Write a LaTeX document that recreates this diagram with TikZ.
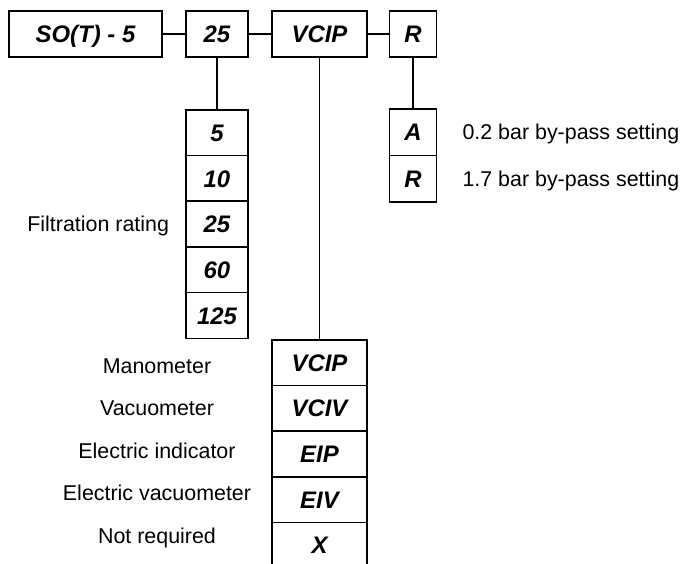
\documentclass[tikz,border=0pt]{standalone}
\usepackage{fontspec}
\setmainfont{Liberation Sans}
\usetikzlibrary{positioning}
\tikzset{
  code/.style={draw, line width=1.6bp, rectangle, inner sep=0pt, minimum height=45.7bp,
    font=\fontsize{24}{28}\selectfont\bfseries\itshape, text height=17.2pt, text depth=0pt},
  lbl/.style={inner sep=0pt, font=\fontsize{21.5}{26}\selectfont, text height=15.4pt, text depth=0pt},
  link/.style={line width=1.3bp}
}
\begin{document}
\begin{tikzpicture}[x=1bp,y=-1bp,line cap=butt]
\useasboundingbox (0,0) rectangle (684,564);
% top row
\node[code, minimum width=153bp] (so) at (85.5,34) {SO(T) - 5};
\node[code, minimum width=62bp] (rating) at (217,34) {25};
\node[code, minimum width=95bp] (ind) at (319.5,34) {VCIP};
\node[code, minimum width=47bp] (valve) at (413,34) {R};
\draw[link] (so) -- (rating);
\draw[link] (rating) -- (ind);
\draw[link] (ind) -- (valve);
% filtration rating
\foreach \v [count=\i] in {5,10,25,60,125}
  \node[code, minimum width=62bp] (f\i) at (217,{110+45.66*(\i-0.5)}) {\v};
\node[lbl, left=16bp of f3] (ftxt) {Filtration rating};
\draw[link] (rating) -- (f1);
% by-pass setting
\foreach \v/\t [count=\i] in {A/0.2 bar by-pass setting, R/1.7 bar by-pass setting} {
  \node[code, minimum width=47bp, minimum height=46.5bp] (b\i) at (413,{109+46.5*(\i-0.5)}) {\v};
  \node[lbl, right=25bp of b\i] (bt\i) {\t};
}
\draw[link] (valve) -- (b1);
% indicator
\foreach \v/\t [count=\i] in {VCIP/Manometer, VCIV/Vacuometer, EIP/Electric indicator,
    EIV/Electric vacuometer, X/Not required} {
  \node[code, minimum width=95bp] (i\i) at (319.5,{340+45.6*(\i-0.5)}) {\v};
  \node[lbl] (it\i) at (157,{365.5+42.6*(\i-1)}) {\t};
}
\draw[link] (ind) -- (i1);
\end{tikzpicture}
\end{document}
